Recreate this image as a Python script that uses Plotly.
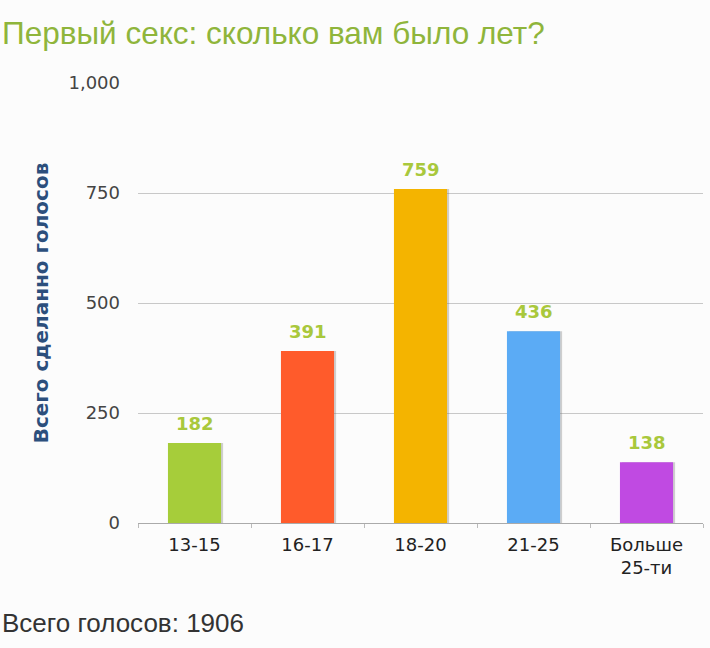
import plotly.graph_objects as go

categories = ["13-15", "16-17", "18-20", "21-25", "Больше<br>25-ти"]
votes = [182, 391, 759, 436, 138]
bar_colors = ["#a6cd3a", "#ff5b2b", "#f4b400", "#5babf5", "#c04ae2"]
title_text = "Первый секс: сколько вам было лет?"
y_title = "Всего сделанно голосов"
total_text = "Всего голосов: 1906"

fig = go.Figure()
# subtle shadow on right side of bars
fig.add_trace(go.Bar(
    x=categories, y=votes, width=0.47, offset=-0.235 + 0.018,
    marker=dict(color="rgba(120,120,120,0.35)", line=dict(width=0)),
    hoverinfo="skip", showlegend=False,
))
fig.add_trace(go.Bar(
    x=categories, y=votes, width=0.47, offset=-0.235,
    marker=dict(color=bar_colors, line=dict(width=0)),
    showlegend=False,
))

annotations = [
    dict(x=c, y=v, text=str(v), xref="x", yref="y", showarrow=False,
         yanchor="bottom", yshift=7,
         font=dict(family="DejaVu Sans", size=18, color="#a9c83c", weight="bold"))
    for c, v in zip(categories, votes)
]
annotations += [
    dict(text=title_text, xref="paper", yref="paper", x=-138/565, y=1 + 50/440,
         xanchor="left", yanchor="middle", showarrow=False,
         font=dict(family="Liberation Sans", size=31.5, color="#8fb53b")),
    dict(text=total_text, xref="paper", yref="paper", x=-138/565, y=-100/440,
         xanchor="left", yanchor="middle", showarrow=False,
         font=dict(family="Liberation Sans", size=26, color="#333333")),
]

fig.update_layout(
    width=710, height=648,
    margin=dict(l=138, r=7, t=83, b=125),
    paper_bgcolor="#fcfcfc", plot_bgcolor="#fcfcfc",
    barmode="overlay",
    showlegend=False,
    xaxis=dict(
        showgrid=False, showline=True, linecolor="#aaaaaa", linewidth=1,
        ticks="outside", tickson="boundaries", ticklen=4, tickcolor="#bbbbbb",
        ticklabelstandoff=5,
        tickfont=dict(family="DejaVu Sans", size=18, color="#222222"),
    ),
    yaxis=dict(
        range=[0, 1000], tickvals=[0, 250, 500, 750, 1000], tickformat=",",
        showgrid=True, gridcolor="#c8c8c8", gridwidth=1, zeroline=False,
        showline=False, ticks="", ticklabelstandoff=17,
        tickfont=dict(family="DejaVu Sans", size=18, color="#444444"),
        title=dict(text=y_title, standoff=14,
                   font=dict(family="DejaVu Sans", size=20, color="#2c4f7c",
                             weight="bold")),
    ),
    annotations=annotations,
)

fig.write_html("out.html")
